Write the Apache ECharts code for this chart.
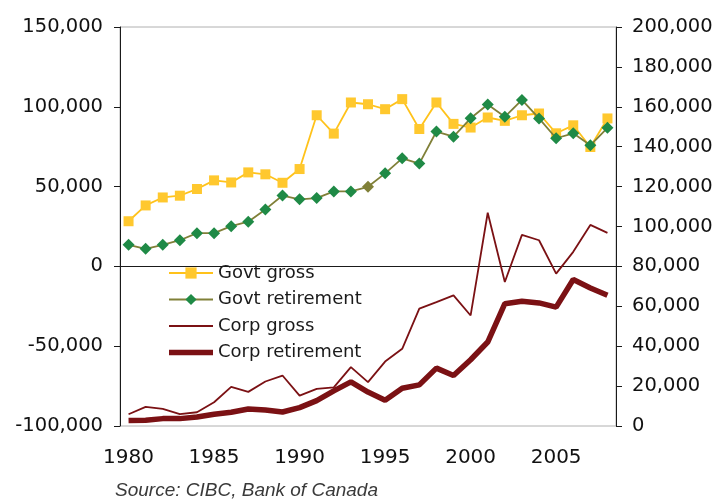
<!DOCTYPE html>
<html>
<head>
<meta charset="utf-8">
<script src="https://cdn.jsdelivr.net/npm/echarts@6/dist/echarts.min.js"></script>
<style>
  html, body { margin: 0; padding: 0; background: #fff; }
  #chart { width: 718px; height: 501px; }
</style>
</head>
<body>
<div id="chart"></div>
<script>
// Annual issuance, 1980-2008
const years = [];
for (let y = 1980; y <= 2008; y++) years.push(String(y));

// Government bonds (left axis)
const govtGross = [28300, 38200, 43200, 44300, 48500, 53900, 52600, 58900, 57700, 52400,
  61000, 94700, 83200, 102700, 101600, 98500, 104800, 86100, 102700, 89300,
  87000, 93300, 91200, 94700, 95800, 83400, 88400, 74800, 92700];
const govtRetirement = [13500, 11000, 13500, 16400, 20800, 20800, 25200, 28000, 35700, 44400,
  42000, 42800, 47000, 47000, 49900, 58300, 67700, 64400, 84500, 81300,
  92800, 101400, 93700, 104300, 92700, 80300, 83400, 75900, 86800];

// Corporate bonds (right axis)
const corpGross = [5900, 9550, 8540, 5900, 6900, 11900, 19600, 17100, 22300, 25300,
  15200, 18600, 19400, 29500, 22000, 32300, 38700, 58800, 62100, 65500,
  55400, 106900, 72200, 95800, 93100, 76400, 87300, 100800, 96800];
const corpRetirement = [2700, 2850, 3700, 3700, 4500, 5900, 6900, 8500, 8000, 7000,
  9200, 12700, 17600, 22100, 17000, 12900, 18900, 20600, 29000, 25300,
  33200, 42100, 61300, 62500, 61700, 59600, 73400, 69200, 65500];

const seriesNames = ['Govt gross', 'Govt retirement', 'Corp gross', 'Corp retirement'];
const sourceNote = 'Source: CIBC, Bank of Canada';

const FONT = 'DejaVu Sans';
const AXIS_COLOR = '#1a1a1a';

const chart = echarts.init(document.getElementById('chart'), null, { renderer: 'canvas' });

// The 1994 retirement point is drawn in olive
const govtRetData = govtRetirement.map((v, i) =>
  years[i] === '1994' ? { value: v, itemStyle: { color: '#808038' } } : v);

const fmt = v => echarts.format.addCommas(v);

// Legend swatches for the plain lines: a horizontal bar inside a 44x14 box
const lineIcon = thickness => {
  const y0 = (14 - thickness) / 2, y1 = y0 + thickness;
  return `path://M0,0L0.01,0L0.01,0.01L0,0.01Z M0,${y0}L44,${y0}L44,${y1}L0,${y1}Z M43.99,13.99L44,13.99L44,14L43.99,14Z`;
};

chart.setOption({
  animation: false,
  backgroundColor: '#fff',
  title: {
    text: sourceNote,
    left: 110, top: 476,
    textStyle: { fontFamily: 'Liberation Sans', fontStyle: 'italic', fontWeight: 'normal', fontSize: 19, color: '#3a3a3a' }
  },
  grid: {
    left: 120, right: 102, top: 27, bottom: 75,
    show: true, borderColor: '#b0b0b0', borderWidth: 1
  },
  legend: {
    orient: 'vertical',
    left: 168, top: 264, padding: 0,
    itemWidth: 44, itemHeight: 14, itemGap: 8.5,
    textStyle: { fontFamily: FONT, fontSize: 18, color: '#1a1a1a' },
    data: [
      { name: seriesNames[0] },
      { name: seriesNames[1] },
      { name: seriesNames[2], icon: lineIcon(1.8) },
      { name: seriesNames[3], icon: lineIcon(5.5) }
    ]
  },
  xAxis: {
    type: 'category',
    data: years,
    boundaryGap: true,
    axisLine: { lineStyle: { color: AXIS_COLOR, width: 1 } },
    axisTick: { inside: false, length: 6, interval: 4, lineStyle: { color: AXIS_COLOR } },
    axisLabel: { interval: 4, margin: 22, fontFamily: FONT, fontSize: 20, color: '#111' },
    splitLine: { show: false }
  },
  yAxis: [
    {
      type: 'value', position: 'left',
      min: -100000, max: 150000, interval: 50000,
      axisLine: { show: true, lineStyle: { color: AXIS_COLOR } },
      axisTick: { show: true, length: 6, lineStyle: { color: AXIS_COLOR } },
      axisLabel: { margin: 17, fontFamily: FONT, fontSize: 19.5, color: '#111', formatter: fmt },
      splitLine: { show: false }
    },
    {
      type: 'value', position: 'right',
      min: 0, max: 200000, interval: 20000,
      axisLine: { show: true, lineStyle: { color: AXIS_COLOR } },
      axisTick: { show: true, length: 6, lineStyle: { color: AXIS_COLOR } },
      axisLabel: { margin: 16, fontFamily: FONT, fontSize: 19.5, color: '#111', formatter: fmt },
      splitLine: { show: false }
    }
  ],
  series: [
    {
      name: seriesNames[0], type: 'line', yAxisIndex: 0,
      data: govtGross,
      symbol: 'rect', symbolSize: 10, showAllSymbol: true,
      lineStyle: { color: '#FFC21A', width: 1.8 },
      itemStyle: { color: '#FFC82E' },
      z: 3
    },
    {
      name: seriesNames[1], type: 'line', yAxisIndex: 0,
      data: govtRetData,
      symbol: 'diamond', symbolSize: 12, showAllSymbol: true,
      lineStyle: { color: '#808038', width: 1.8 },
      itemStyle: { color: '#1F8A46' },
      z: 4
    },
    {
      name: seriesNames[2], type: 'line', yAxisIndex: 1,
      data: corpGross,
      symbol: 'none',
      lineStyle: { color: '#7B1114', width: 1.8 },
      itemStyle: { color: '#7B1114' },
      z: 2
    },
    {
      name: seriesNames[3], type: 'line', yAxisIndex: 1,
      data: corpRetirement,
      symbol: 'none',
      lineStyle: { color: '#7B1114', width: 5.5 },
      itemStyle: { color: '#7B1114' },
      z: 2
    }
  ]
});
</script>
</body>
</html>
